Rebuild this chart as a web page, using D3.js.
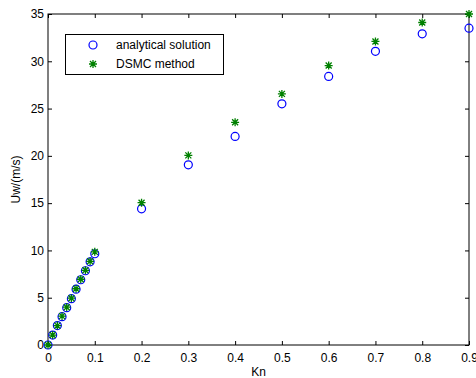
<!DOCTYPE html>
<html>
<head>
<meta charset="utf-8">
<script src="https://cdn.jsdelivr.net/npm/d3@7"></script>
<style>
  body { margin: 0; background: #fff; }
  svg { display: block; }
</style>
</head>
<body>
<script>
const kn = [0, 0.01, 0.02, 0.03, 0.04, 0.05, 0.06, 0.07, 0.08, 0.09, 0.1,
            0.2, 0.3, 0.4, 0.5, 0.6, 0.7, 0.8, 0.9]
const analytical = [0, 1.05, 2.05, 3.0, 3.95, 4.9, 5.9, 6.9, 7.85, 8.8, 9.65,
                    14.4, 19.05, 22.05, 25.5, 28.4, 31.05, 32.9, 33.5]
const dsmc = [0, 1.05, 2.05, 3.05, 4.0, 4.95, 5.95, 6.95, 7.9, 8.85, 9.85,
              15.05, 20.05, 23.55, 26.55, 29.55, 32.1, 34.1, 35.0]
const x_ticks = [0, 0.1, 0.2, 0.3, 0.4, 0.5, 0.6, 0.7, 0.8, 0.9]
const y_ticks = [0, 5, 10, 15, 20, 25, 30, 35]
const legend_labels = ['analytical solution', 'DSMC method']

const width = 476, height = 378
const margin = {top: 14, right: 7, bottom: 33, left: 48}
const font = 'Arial, "Liberation Sans", sans-serif'
const font_size = 12

const svg = d3.select('body').append('svg')
  .attr('width', width)
  .attr('height', height)

const x = d3.scaleLinear()
  .domain([0, 0.9])
  .range([margin.left, width - margin.right])

const y = d3.scaleLinear()
  .domain([0, 35])
  .range([height - margin.bottom, margin.top])

const tick = 4

function axis(gen, dx, dy) {
  const g = svg.append('g')
    .attr('transform', `translate(${dx},${dy})`)
    .call(gen)
  g.select('.domain').remove()
  g.selectAll('.tick line').attr('stroke', '#000')
  g.selectAll('text')
    .attr('font-family', font)
    .attr('font-size', font_size)
    .attr('fill', '#000')
  return g
}

// bottom / left with labels, top / right ticks only (ticks point inward)
axis(d3.axisBottom(x).tickValues(x_ticks).tickSize(-tick).tickPadding(8).tickFormat(d3.format('')),
  0, y(0))
axis(d3.axisLeft(y).tickValues(y_ticks).tickSize(-tick).tickPadding(4), x(0), 0)
axis(d3.axisTop(x).tickValues(x_ticks).tickSize(-tick).tickFormat(''), 0, y(35))
axis(d3.axisRight(y).tickValues(y_ticks).tickSize(-tick).tickFormat(''), x(0.9), 0)

svg.append('rect')
  .attr('x', x(0))
  .attr('y', y(35))
  .attr('width', x(0.9) - x(0))
  .attr('height', y(0) - y(35))
  .attr('fill', 'none')
  .attr('stroke', '#000')
  .attr('stroke-width', 1)

svg.append('text')
  .attr('x', (x(0) + x(0.9)) / 2)
  .attr('y', height - 2)
  .attr('text-anchor', 'middle')
  .attr('font-family', font)
  .attr('font-size', font_size)
  .text('Kn')

svg.append('text')
  .attr('transform', `translate(20,${(y(0) + y(35)) / 2}) rotate(-90)`)
  .attr('text-anchor', 'middle')
  .attr('font-family', font)
  .attr('font-size', font_size)
  .text('Uw/(m/s)')

const star = 'M-4,0H4M0,-4V4M-3,-3L3,3M-3,3L3,-3'

function draw_circle(g, cx, cy) {
  g.append('circle')
    .attr('cx', cx).attr('cy', cy).attr('r', 4)
    .attr('fill', 'none').attr('stroke', '#0000ff').attr('stroke-width', 1.2)
}

function draw_star(g, cx, cy) {
  g.append('path')
    .attr('d', star)
    .attr('transform', `translate(${cx},${cy})`)
    .attr('fill', 'none').attr('stroke', '#008000').attr('stroke-width', 1.3)
}

const pts = svg.append('g')
kn.forEach((k, i) => draw_circle(pts, x(k), y(analytical[i])))
kn.forEach((k, i) => draw_star(pts, x(k), y(dsmc[i])))

// legend
const legend = svg.append('g')
legend.append('rect')
  .attr('x', 65.5).attr('y', 34.5)
  .attr('width', 158).attr('height', 40)
  .attr('fill', '#fff').attr('stroke', '#000')
draw_circle(legend, 93, 45)
draw_star(legend, 93, 64)
legend.selectAll('text.lab')
  .data(legend_labels)
  .join('text')
  .attr('x', 116)
  .attr('y', (d, i) => 49 + i * 19)
  .attr('font-family', font)
  .attr('font-size', font_size)
  .text(d => d)
</script>
</body>
</html>
